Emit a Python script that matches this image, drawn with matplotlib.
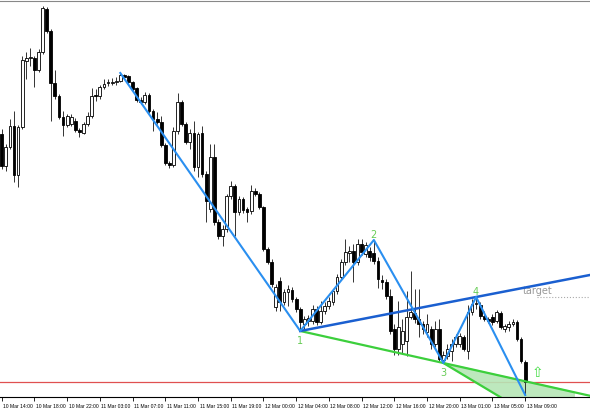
import numpy as np
import matplotlib.pyplot as plt
import matplotlib.transforms as mtransforms

# 30-minute candles, price in chart units (higher = up)
opens = [265, 233, 252, 273, 224, 272, 338, 341, 341, 329, 347, 390, 368, 316, 303, 282, 274, 275, 278, 269,
         266, 275, 283, 304, 303, 312, 316, 316, 317, 318, 324, 323, 317, 311, 299, 297, 304, 288, 280, 277,
         254, 236, 234, 268, 297, 275, 257, 266, 232, 266, 225, 190, 242, 177, 163, 170, 203, 213, 187, 200,
         190, 188, 208, 205, 192, 150, 137, 92, 118, 97, 107, 109, 100, 90, 75, 78, 78, 90, 77, 88,
         93, 97, 108, 122, 137, 146, 148, 137, 155, 145, 148, 146, 138, 119, 117, 103, 70, 50, 55, 58,
         82, 86, 80, 75, 67, 70, 55, 70, 39, 43, 48, 55, 55, 62, 48, 87, 95, 94, 83, 80,
         82, 78, 86, 70, 72, 75, 77, 60, 37]
highs = [270, 255, 280, 288, 274, 343, 347, 351, 343, 350, 393, 392, 370, 329, 305, 288, 285, 285, 281, 271,
         277, 287, 311, 310, 314, 320, 320, 321, 322, 326, 325, 324, 318, 312, 302, 307, 306, 290, 287, 283,
         256, 238, 272, 306, 299, 277, 270, 278, 267, 273, 228, 255, 255, 180, 174, 205, 218, 215, 203, 202,
         192, 214, 211, 207, 193, 152, 140, 115, 122, 110, 114, 112, 102, 92, 83, 84, 94, 93, 98, 97,
         102, 110, 125, 140, 160, 153, 155, 160, 160, 157, 152, 159, 142, 124, 120, 110, 75, 98, 80, 108,
         128, 110, 110, 78, 85, 73, 78, 80, 48, 55, 60, 65, 66, 64, 94, 100, 102, 97, 88, 82,
         85, 89, 88, 75, 78, 80, 79, 62, 39]
lows = [230, 228, 250, 217, 212, 270, 320, 333, 312, 327, 345, 366, 278, 300, 280, 263, 272, 273, 267, 262,
        265, 273, 281, 298, 300, 310, 313, 314, 314, 317, 320, 315, 308, 297, 295, 295, 286, 268, 275, 252,
        234, 231, 232, 265, 273, 255, 250, 228, 222, 222, 177, 187, 174, 160, 153, 167, 200, 163, 184, 186,
        177, 185, 203, 190, 148, 135, 112, 88, 88, 94, 93, 97, 87, 68, 70, 73, 75, 74, 75, 85,
        90, 94, 105, 119, 134, 137, 117, 134, 144, 142, 138, 135, 111, 110, 100, 65, 44, 44, 45, 43,
        80, 76, 62, 65, 62, 50, 52, 38, 36, 40, 38, 52, 52, 48, 40, 84, 90, 80, 78, 76,
        74, 76, 70, 67, 68, 73, 58, 36, 4]
closes = [233, 252, 273, 224, 272, 339, 341, 342, 329, 347, 391, 368, 316, 303, 282, 274, 283, 282, 269, 267,
          275, 283, 303, 303, 312, 315, 317, 317, 318, 324, 322, 317, 310, 299, 297, 304, 288, 280, 277, 254,
          236, 234, 268, 297, 275, 257, 266, 232, 265, 225, 198, 242, 177, 163, 170, 203, 213, 187, 200, 189,
          187, 208, 205, 192, 150, 137, 115, 112, 97, 107, 110, 100, 90, 77, 80, 81, 90, 77, 88, 93,
          98, 108, 122, 137, 147, 148, 137, 155, 147, 154, 142, 138, 120, 117, 103, 68, 50, 72, 68, 82,
          87, 80, 75, 70, 75, 55, 70, 40, 44, 50, 55, 62, 63, 50, 87, 95, 96, 83, 80, 78,
          77, 87, 72, 73, 75, 77, 60, 38, 17]

time_labels = ["10 Mar 14:00", "10 Mar 18:00", "10 Mar 22:00", "11 Mar 03:00", "11 Mar 07:00",
               "11 Mar 11:00", "11 Mar 15:00", "11 Mar 19:00", "12 Mar 00:00", "12 Mar 04:00",
               "12 Mar 08:00", "12 Mar 12:00", "12 Mar 16:00", "12 Mar 20:00", "13 Mar 01:00",
               "13 Mar 05:00", "13 Mar 09:00"]

# wave points: start, 1, 2, 3, 4, 5  (bar index, price)
wave_x = [29, 73, 91, 108, 116, 128]
wave_y = [326, 68, 159, 36, 102, 4]
wave_names = ["", "1", "2", "3", "4", ""]
red_level = 17
target_level = 102

fig = plt.figure(figsize=(5.9, 4.1), dpi=100)
ax = fig.add_axes([0, 12 / 410, 1, 396 / 410])

o = np.array(opens)
h = np.array(highs)
l = np.array(lows)
c = np.array(closes)
idx = np.arange(len(o))

ax.vlines(idx, l, h, color='#333333', lw=0.7, zorder=2)
bull = c >= o
bottom = np.minimum(o, c)
height = np.maximum(np.abs(c - o), 0.8)
ax.bar(idx[bull], height[bull], bottom=bottom[bull], width=0.68,
       color='white', edgecolor='black', linewidth=0.6, zorder=3)
ax.bar(idx[~bull], height[~bull], bottom=bottom[~bull], width=0.68,
       color='black', edgecolor='black', linewidth=0.6, zorder=3)

x_right = 144
# red horizontal level
ax.axhline(red_level, color='#e05050', lw=0.9, zorder=1)

# green line 1-3 extended, and shaded triangle
x1, y1 = wave_x[1], wave_y[1]
x3, y3 = wave_x[3], wave_y[3]
x4, y4 = wave_x[4], wave_y[4]
s13 = (y3 - y1) / (x3 - x1)
steep = -2.45
x_tri = 140
tri_x = [x3, x_tri, x_tri]
tri_y = [y3, y3 + s13 * (x_tri - x3), y3 + steep * (x_tri - x3)]
ax.fill(tri_x, tri_y, color='#b6e6b6', alpha=0.9, zorder=1)
ax.plot([x1, x_right], [y1, y3 + s13 * (x_right - x3)], color='#3ccf3c', lw=1.6, zorder=4)
ax.plot([x3, x_tri], [y3, y3 + steep * (x_tri - x3)], color='#3ccf3c', lw=1.6, zorder=4)

# 1-4 line
s14 = (y4 - y1) / (x4 - x1)
ax.plot([x1, x_right], [y1, y1 + s14 * (x_right - x1)], color='#1a5fd0', lw=1.8, zorder=5)

# zigzag
ax.plot(wave_x, wave_y, color='#2a8ff0', lw=1.5, zorder=6)

# point labels
offs = {"1": -9, "2": 6, "3": -9, "4": 6}
for xi, yi, name in zip(wave_x, wave_y, wave_names):
    if name:
        ax.text(xi, yi + offs[name], name, color='#66cc55', fontsize=7,
                ha='center', va='center', zorder=7)

# target
ax.plot([131, x_right], [target_level, target_level], color='#aaaaaa', lw=0.8, ls=':', zorder=2)
ax.text(127.3, target_level + 2, "target", color='#999999', fontsize=7, ha='left', va='bottom')

# arrow
ax.text(130.9, 27, "\u21e7", color='#44dd44', fontsize=10, ha='center', va='center', zorder=7)

ax.set_xlim(-0.42, 143.85)
ax.set_ylim(2, 398)
ax.set_yticks([])
ax.set_xticks(np.arange(0, 129, 8))
ax.set_xticklabels(time_labels, fontsize=3.6, ha='left', family='Liberation Sans')
ax.tick_params(axis='x', direction='out', length=3, width=0.6, pad=1.5, colors='black')
offset = mtransforms.ScaledTranslation(1.5 / 100, 0, fig.dpi_scale_trans)
for lab in ax.get_xticklabels():
    lab.set_transform(lab.get_transform() + offset)

ax.spines['left'].set_visible(False)
ax.spines['right'].set_visible(False)
ax.spines['top'].set_color('#888888')
ax.spines['bottom'].set_color('black')
ax.spines['bottom'].set_linewidth(0.8)

fig.savefig("out.png", dpi=100)
